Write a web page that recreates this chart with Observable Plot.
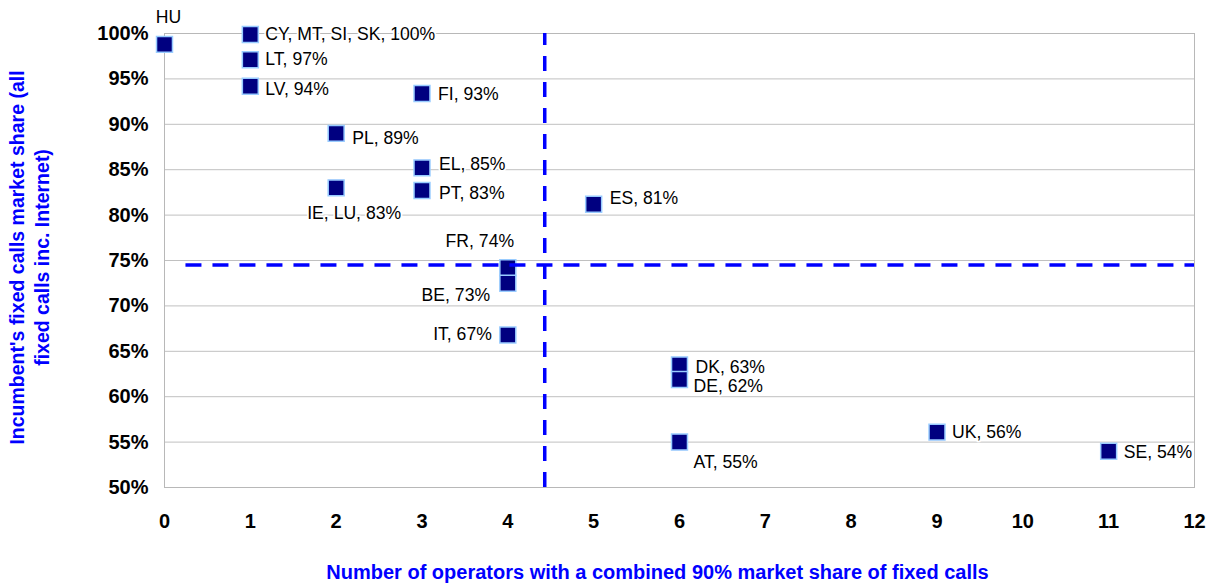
<!DOCTYPE html>
<html>
<head>
<meta charset="utf-8">
<script src="https://cdn.jsdelivr.net/npm/d3@7"></script>
<script src="https://cdn.jsdelivr.net/npm/@observablehq/plot@0.6"></script>
<style>
  html, body { margin: 0; padding: 0; background: #fff; }
  #chart svg { display: block; }
</style>
</head>
<body>
<div id="chart"></div>
<script>
// ---- Data ----
const countries = ["HU", "CY, MT, SI, SK", "LT", "LV", "FI", "PL", "EL", "PT", "IE, LU", "ES", "FR", "BE", "IT", "DK", "DE", "AT", "UK", "SE"];
const operators = [0, 1, 1, 1, 3, 2, 3, 3, 2, 5, 4, 4, 4, 6, 6, 6, 9, 11];
const shares = [98.8, 99.9, 97.1, 94.2, 93.4, 89.0, 85.2, 82.7, 83.0, 81.2, 74.2, 72.5, 66.8, 63.5, 61.9, 55.0, 56.1, 54.0];
const pointLabels = ["HU", "CY, MT, SI, SK, 100%", "LT, 97%", "LV, 94%", "FI, 93%", "PL, 89%", "EL, 85%", "PT, 83%", "IE, LU, 83%", "ES, 81%", "FR, 74%", "BE, 73%", "IT, 67%", "DK, 63%", "DE, 62%", "AT, 55%", "UK, 56%", "SE, 54%"];
const xTicks = [0, 1, 2, 3, 4, 5, 6, 7, 8, 9, 10, 11, 12];
const yTicks = [50, 55, 60, 65, 70, 75, 80, 85, 90, 95, 100];
const avgOperators = 4.43;   // vertical reference line
const avgShare = 74.5;       // horizontal reference line
const xTitle = "Number of operators with a combined 90% market share of fixed calls";
const yTitle = "Incumbent's fixed calls market share (all\nfixed calls inc. Internet)";

// ---- Label layout (placement only) ----
const layout = {
  "HU": ["middle", 4, -27],
  "CY, MT, SI, SK": ["start", 15, 0],
  "LT": ["start", 15, 0],
  "LV": ["start", 15, 3],
  "FI": ["start", 16, 1],
  "PL": ["start", 16, 5],
  "EL": ["start", 17, -4],
  "PT": ["start", 17, 3],
  "IE, LU": ["middle", 18, 25],
  "ES": ["start", 16, -6],
  "FR": ["middle", -28, -26],
  "BE": ["middle", -52, 12],
  "IT": ["end", -16, -1],
  "DK": ["start", 16, 2],
  "DE": ["start", 14, 7],
  "AT": ["start", 14, 20],
  "UK": ["start", 15, 0],
  "SE": ["start", 15, 1]
};

const data = countries.map((c, i) => ({country: c, x: operators[i], y: shares[i], label: pointLabels[i]}));

const FONT = "'Liberation Sans', Arial, sans-serif";
const BLUE = "#0000ff";

const labelMarks = data.map(d => {
  const [anchor, dx, dy] = layout[d.country];
  return Plot.text([d], {
    x: "x", y: "y", text: "label",
    textAnchor: anchor, dx, dy,
    fontSize: 17.6, fill: "#000",
    stroke: "white", strokeWidth: 3.5
  });
});

const chart = Plot.plot({
  width: 1211,
  height: 586,
  marginLeft: 164,
  marginRight: 17,
  marginTop: 33,
  marginBottom: 99,
  style: {fontFamily: FONT, background: "#fff", overflow: "visible"},
  x: {domain: [0, 12]},
  y: {domain: [50, 100]},
  marks: [
    Plot.gridY(yTicks, {stroke: "#c0c0c0", strokeOpacity: 1}),
    Plot.frame({stroke: "#b8b8b8"}),
    Plot.axisX(xTicks, {tickSize: 0, tickPadding: 26, fontSize: 20, fontWeight: "bold", label: null, fill: "#000"}),
    Plot.axisY(yTicks, {tickSize: 0, tickPadding: 16, fontSize: 20, fontWeight: "bold", label: null, fill: "#000", tickFormat: d => d + "%"}),
    ...labelMarks,
    Plot.dot(data, {x: "x", y: "y", symbol: "square", r: 9, fill: "#000080", stroke: "#99ccff", strokeWidth: 1.5}),
    Plot.ruleY([avgShare], {x1: 0.25, x2: 12, stroke: BLUE, strokeWidth: 3.5, strokeDasharray: "16,11"}),
    Plot.ruleX([avgOperators], {y1: 50, y2: 100, stroke: BLUE, strokeWidth: 3.5, strokeDasharray: "15,11"}),
    Plot.text([xTitle], {frameAnchor: "bottom", dx: -22, dy: 85, lineAnchor: "middle", textAnchor: "middle", fontSize: 20, fontWeight: "bold", fill: BLUE}),
    Plot.text([yTitle], {frameAnchor: "left", dx: -136, dy: -3, rotate: -90, textAnchor: "middle", lineAnchor: "middle", lineHeight: 1.3, fontSize: 19.5, fontWeight: "bold", fill: BLUE})
  ]
});

document.getElementById("chart").appendChild(chart);
</script>
</body>
</html>
